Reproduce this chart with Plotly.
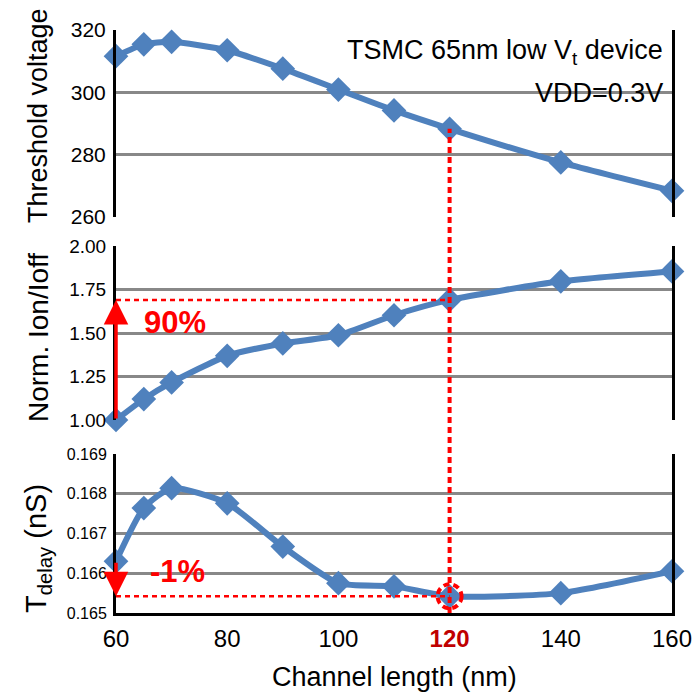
import plotly.graph_objects as go
from plotly.subplots import make_subplots

# Channel length sweep (nm)
channel_length = [60, 65, 70, 80, 90, 100, 110, 120, 140, 160]

# Threshold voltage (mV)
vth = [311.6, 315.4, 316.2, 313.5, 307.6, 300.9, 294.2, 288.3, 277.5, 268.4]

# Normalised Ion/Ioff
ion_ioff = [1.00, 1.12, 1.216, 1.369, 1.44, 1.487, 1.602, 1.69, 1.797, 1.854]

# Delay (nS)
t_delay = [0.16630, 0.16764, 0.16814, 0.16776, 0.16667, 0.16575, 0.16567, 0.16542, 0.16550, 0.16605]

x_ticks = [60, 80, 100, 120, 140, 160]
x_ticktext = ["60", "80", "100", "<b><span style='color:#C00000'>120</span></b>", "140", "160"]

chosen_length = 120
blue = "#4F81BD"
red = "#FF0000"
grid = "#888888"
FONT = "Liberation Sans, Arial, sans-serif"

x_dom = [116 / 700, 672 / 700]
y_doms = {
    1: [1 - 217 / 700, 1 - 30 / 700],
    2: [1 - 420 / 700, 1 - 246 / 700],
    3: [1 - 613 / 700, 1 - 454 / 700],
}
y_ranges = {1: [260, 320], 2: [1.0, 2.0], 3: [0.165, 0.169]}
y_dticks = {1: 20, 2: 0.25, 3: 0.001}
y_tickfont = {1: 21, 2: 19, 3: 16}
y_fmt = {1: "d", 2: ".2f", 3: ".3f"}

fig = make_subplots(rows=3, cols=1, shared_xaxes=True)

for row, ys in zip((1, 2, 3), (vth, ion_ioff, t_delay)):
    fig.add_trace(
        go.Scatter(
            x=channel_length, y=ys, mode="lines+markers",
            line=dict(color=blue, width=6, shape="spline", smoothing=0.6),
            marker=dict(symbol="diamond", size=19, color=blue),
            cliponaxis=False, showlegend=False, hoverinfo="x+y",
        ),
        row=row, col=1,
    )


def paper_y(row, value):
    lo, hi = y_ranges[row]
    d0, d1 = y_doms[row]
    return d0 + (value - lo) / (hi - lo) * (d1 - d0)


idx = channel_length.index(chosen_length)

for row in (1, 2, 3):
    xa = "xaxis" if row == 1 else f"xaxis{row}"
    ya = "yaxis" if row == 1 else f"yaxis{row}"
    fig.layout[xa].update(
        domain=x_dom, range=[60, 160], showgrid=False, zeroline=False,
        tickvals=x_ticks, ticktext=x_ticktext, automargin=False,
        showticklabels=(row == 3), ticks="", ticklabelstandoff=2,
        showline=(row == 3), linecolor="black", linewidth=3,
        tickfont=dict(size=24, color="black", family=FONT),
    )
    fig.layout[ya].update(
        domain=y_doms[row], range=y_ranges[row], dtick=y_dticks[row],
        tick0=y_ranges[row][0], tickformat=y_fmt[row], automargin=False,
        showgrid=True, gridcolor=grid, gridwidth=3, zeroline=False,
        showline=True, mirror=True, linecolor="black", linewidth=3,
        ticks="", ticklabelstandoff=3,
        tickfont=dict(size=y_tickfont[row], color="black", family=FONT),
    )

shapes = []
# vertical guide at the chosen channel length
shapes.append(dict(
    type="line", xref="x3", yref="paper",
    x0=chosen_length, x1=chosen_length,
    y0=paper_y(3, y_ranges[3][0]), y1=paper_y(1, vth[idx]),
    line=dict(color=red, width=4, dash="6px,4px"), layer="above",
))
# horizontal guides back to the shortest length
shapes.append(dict(
    type="line", xref="x2", yref="y2",
    x0=channel_length[0], x1=chosen_length, y0=ion_ioff[idx], y1=ion_ioff[idx],
    line=dict(color=red, width=2.5, dash="5px,4px"), layer="above",
))
shapes.append(dict(
    type="line", xref="x3", yref="y3",
    x0=channel_length[0], x1=chosen_length, y0=t_delay[idx], y1=t_delay[idx],
    line=dict(color=red, width=2.5, dash="5px,4px"), layer="above",
))
# dotted ring around the selected delay point
shapes.append(dict(
    type="circle", xref="x3", yref="y3", xsizemode="pixel", ysizemode="pixel",
    xanchor=chosen_length, yanchor=t_delay[idx], x0=-12, x1=12, y0=-12, y1=12,
    line=dict(color=red, width=4, dash="6px,4px"), layer="above",
))

annotations = [
    # arrows showing the change
    dict(x=channel_length[0], y=ion_ioff[idx], xref="x2", yref="y2",
         ax=channel_length[0], ay=ion_ioff[0], axref="x2", ayref="y2",
         showarrow=True, arrowhead=2, arrowsize=1.4, arrowwidth=3.5,
         arrowcolor=red, text=""),
    dict(x=channel_length[0], y=t_delay[idx], xref="x3", yref="y3",
         ax=channel_length[0], ay=t_delay[0], axref="x3", ayref="y3",
         showarrow=True, arrowhead=2, arrowsize=1.4, arrowwidth=3.5,
         arrowcolor=red, text=""),
    dict(x=70.6, y=1.56, xref="x2", yref="y2", text="<b>90%</b>", showarrow=False,
         font=dict(size=31, color=red, family=FONT)),
    dict(x=71, y=0.16604, xref="x3", yref="y3", text="<b>-1%</b>", showarrow=False,
         font=dict(size=31, color=red, family=FONT)),
    # device note
    dict(x=665 / 700, y=1 - 52 / 700, xref="paper", yref="paper", xanchor="right",
         yanchor="middle", showarrow=False,
         text="TSMC 65nm low V<sub>t</sub> device",
         font=dict(size=27, color="black", family=FONT)),
    dict(x=665 / 700, y=1 - 93 / 700, xref="paper", yref="paper", xanchor="right",
         yanchor="middle", showarrow=False, text="VDD=0.3V",
         font=dict(size=27, color="black", family=FONT)),
    # axis titles
    dict(x=38 / 700, y=1 - 116 / 700, xref="paper", yref="paper", textangle=-90,
         xanchor="center", yanchor="middle",
         showarrow=False, text="Threshold voltage",
         font=dict(size=27, color="black", family=FONT)),
    dict(x=38 / 700, y=1 - 338 / 700, xref="paper", yref="paper", textangle=-90,
         xanchor="center", yanchor="middle",
         showarrow=False, text="Norm. Ion/Ioff",
         font=dict(size=28, color="black", family=FONT)),
    dict(x=38 / 700, y=1 - 549 / 700, xref="paper", yref="paper", textangle=-90,
         xanchor="center", yanchor="middle",
         showarrow=False, text="T<sub>delay</sub> (nS)",
         font=dict(size=29, color="black", family=FONT)),
    dict(x=(x_dom[0] + x_dom[1]) / 2, y=1 - 677 / 700, xref="paper", yref="paper",
         xanchor="center", yanchor="middle",
         showarrow=False, text="Channel length (nm)",
         font=dict(size=27, color="black", family=FONT)),
]

fig.update_layout(
    width=700, height=700,
    margin=dict(l=0, r=0, t=0, b=0, autoexpand=False),
    paper_bgcolor="white", plot_bgcolor="white",
    shapes=shapes, annotations=annotations,
    font=dict(family=FONT, color="black"),
)

fig.write_html("out.html")
